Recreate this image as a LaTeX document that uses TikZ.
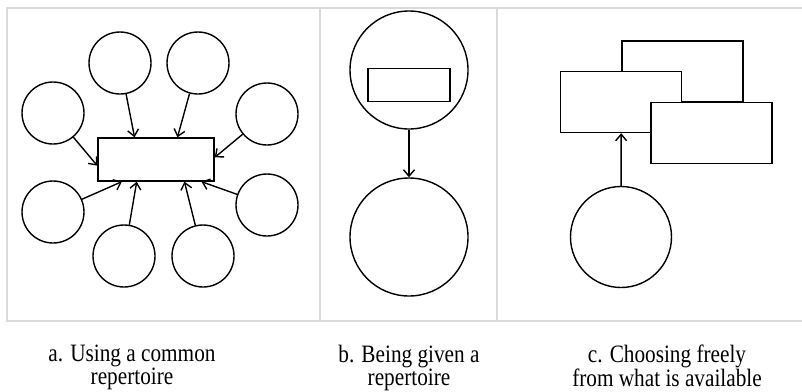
\documentclass[tikz,border=0pt]{standalone}
\usepackage{fontspec}
\setmainfont{Liberation Serif}
\newfontfamily\capfont[FakeStretch=0.85]{Liberation Serif}
\usetikzlibrary{
  positioning,
  arrows.meta
}
\definecolor{panelline}{HTML}{D9D9D9}

\begin{document}
\begin{tikzpicture}[
  x=1pt, y=-1pt,
  ring/.style={draw, circle, line width=1.4pt, fill=white, inner sep=0pt, minimum size=62pt},
  bigring/.style={ring, minimum size=118pt},
  card/.style={draw, rectangle, line width=1.4pt, fill=white, inner sep=0pt,
               minimum width=121pt, minimum height=61pt},
  arr/.style={-{Straight Barb[length=6.5pt, width=11pt]}, line width=1.4pt},
  caption/.style={align=center, anchor=north, inner sep=0pt,
                  font=\capfont\fontsize{25}{20}\selectfont}
]
  \useasboundingbox (0,0) rectangle (802,391);

  % panel frame
  \draw[panelline, line width=2pt] (802,8) -- (7,8) -- (7,320.5) -- (802,320.5);
  \draw[panelline, line width=2pt] (320,8) -- (320,320.5);
  \draw[panelline, line width=2pt] (497,8) -- (497,320.5);

  % a. common repertoire
  \node[draw, line width=1.4pt, inner sep=0pt, minimum width=116pt, minimum height=43pt]
    (common) at (156,159.5) {};
  \node[ring] (topl) at (120,63) {};
  \node[ring] (topr) at (198,63) {};
  \node[ring] (uppl) at (53,113) {};
  \node[ring] (uppr) at (267,114) {};
  \node[ring] (lowl) at (53,212) {};
  \node[ring] (lowr) at (267,205) {};
  \node[ring] (botl) at (124,256) {};
  \node[ring] (botr) at (203,256) {};

  \draw[arr] (topl) -- (common.134);
  \draw[arr] (topr) -- (common.46);
  \draw[arr] (uppl) -- (common.186);
  \draw[arr] (uppr) -- (common.2);
  \draw[arr] (lowl) -- (common.213);
  \draw[arr] (botl) -- (common.229);
  \draw[arr] (botr) -- (common.322);
  \draw[arr] (lowr) -- (common.334);

  % b. given repertoire
  \node[bigring] (giver) at (409,70) {};
  \node[draw, line width=1.4pt, inner sep=0pt, minimum width=82pt, minimum height=33pt]
    (given) at (409,84.7) {};
  \node[bigring] (taker) at (409,237) {};

  \draw[arr] (giver) -- (taker);

  % c. free choice
  \node[card] (backcard) at (682.3,71.3) {};
  \node[card] (midcard) at (621.2,102) {};
  \node[card] (frontcard) at (711.5,133.2) {};
  \node[ring, minimum size=101pt] (chooser) at (621,237) {};

  \draw[arr] (chooser) -- (midcard);

  % captions
  \node[caption] (capa) at (132,345) {a. Using a common\\repertoire};
  \node[caption] (capb) at (409,345) {b. Being given a\\repertoire};
  \node[caption] (capc) at (667,345) {c. Choosing freely\\from what is available};
\end{tikzpicture}
\end{document}
